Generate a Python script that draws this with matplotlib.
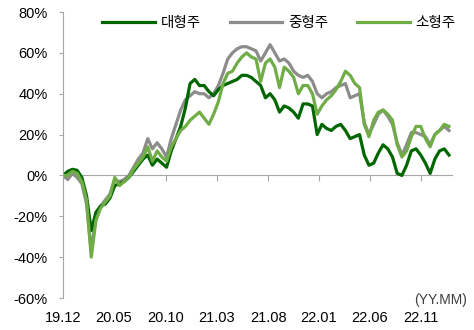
#!/usr/bin/env python3
"""
Cumulative return of KOSPI size indices since end of 2019.
"""

import matplotlib
matplotlib.use('Agg')
import matplotlib.pyplot as plt
import matplotlib.dates as mdates
import pandas as pd

plt.rcParams['font.family'] = ['Liberation Sans', 'Noto Sans CJK KR']

# Bi-weekly observations starting 2019-12-30
dates = pd.date_range('2019-12-30', periods=83, freq='14D')

# 대형주 (large caps), cumulative return in %
large = [0, 2, 3, 2.5, -1, -10, -27, -18, -15, -14,
         -11, -5, -4, -3, -1, 2, 5, 8, 10, 5,
         8, 6, 4, 12, 18, 24, 33, 45, 47, 44,
         44, 41, 39, 42, 44, 45, 46, 47, 49, 49,
         48, 46, 44, 38, 40, 37, 31, 34, 33, 31,
         28, 35, 35, 34, 20, 25, 23, 22, 24, 25,
         22, 18, 19, 20, 10, 5, 6, 11, 15, 13,
         9, 1, 0, 5, 12, 13, 10, 6, 1, 8,
         12, 13, 10]

# 중형주 (mid caps)
mid = [0, -2, 1, -1, -4, -14, -37, -20, -15, -12,
       -9, -2, -3, -2, 0, 4, 8, 11, 18, 13,
       16, 13, 9, 18, 25, 32, 37, 39, 41, 40,
       40, 38, 40, 44, 50, 57, 60, 62, 63, 63,
       62, 61, 56, 60, 64, 60, 56, 57, 55, 51,
       49, 48, 49, 46, 40, 38, 40, 41, 43, 44,
       45, 38, 39, 40, 26, 20, 25, 30, 32, 29,
       25, 16, 10, 15, 21, 21, 20, 19, 15, 20,
       22, 24, 22]

# 소형주 (small caps)
small = [0, 0, 2, 1, -3, -12, -40, -22, -16, -13,
         -10, -1, -5, -3, -1, 3, 6, 9, 14, 7,
         12, 9, 7, 14, 18, 22, 24, 27, 29, 31,
         28, 25, 30, 36, 45, 50, 51, 55, 58, 60,
         58, 57, 46, 55, 57, 53, 43, 53, 51, 48,
         40, 44, 44, 40, 30, 34, 37, 39, 42, 46,
         51, 49, 45, 43, 25, 19, 27, 31, 32, 30,
         27, 15, 9, 12, 19, 24, 24, 18, 14, 20,
         22, 25, 24]

tick_dates = pd.to_datetime(['2019-12-30', '2020-05-29', '2020-10-30', '2021-03-31',
                             '2021-08-31', '2022-01-28', '2022-06-30', '2022-11-30'])
tick_labels = ['19.12', '20.05', '20.10', '21.03', '21.08', '22.01', '22.06', '22.11']

axis_gray = '#a6a6a6'

fig = plt.figure(figsize=(4.74, 3.30), dpi=100)
ax = fig.add_axes([63 / 474, 1 - 298 / 330, 389 / 474, 286 / 330])

l_mid, = ax.plot(dates, mid, color='#8c8c8c', linewidth=2.3)
l_large, = ax.plot(dates, large, color='#006600', linewidth=2.3)
l_small, = ax.plot(dates, small, color='#70ad47', linewidth=2.3)

ax.set_ylim(-60, 80)
ax.set_yticks(range(-60, 81, 20))
ax.set_yticklabels([f'{v}%' for v in range(-60, 81, 20)])
ax.set_xlim(pd.Timestamp('2019-12-30'), pd.Timestamp('2023-03-01'))

for side in ['top', 'right', 'bottom']:
    ax.spines[side].set_visible(False)
ax.spines['left'].set_color(axis_gray)
ax.tick_params(axis='y', direction='out', length=3, color=axis_gray,
               labelsize=10.5, pad=8)

# date labels sit under the plot, the zero line carries the tick marks
ax.set_xticks(tick_dates)
ax.set_xticklabels(tick_labels)
ax.tick_params(axis='x', length=0, labelsize=10.5, pad=9)

zero_axis = ax.secondary_xaxis(60 / 140)
zero_axis.set_xticks(mdates.date2num(tick_dates[1:]))
zero_axis.tick_params(axis='x', direction='out', length=4, color=axis_gray,
                      labelbottom=False, labeltop=False)
zero_axis.spines['bottom'].set_color(axis_gray)

ax.legend([l_large, l_mid, l_small], ['대형주', '중형주', '소형주'],
          ncol=3, frameon=False, loc='center', bbox_to_anchor=(0.555, 0.96),
          handlelength=3.6, handletextpad=0.4, columnspacing=2.0, fontsize=10.5)

fig.text(467 / 474, 1 - 300 / 330, '(YY.MM)', ha='right', va='center',
         fontsize=10, color='#404040')

fig.savefig('out.png', dpi=100)
plt.close(fig)
